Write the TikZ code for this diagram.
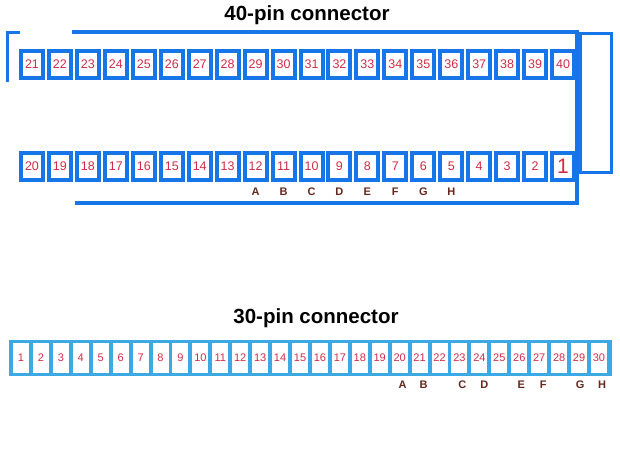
\documentclass[tikz,border=0pt]{standalone}
\usepackage{fontspec}
\setmainfont{Liberation Sans}
\definecolor{pinblue}{RGB}{22,118,232}
\definecolor{barblue}{RGB}{60,168,228}
\definecolor{pinred}{RGB}{210,45,70}
\definecolor{lettbrown}{RGB}{100,40,30}
\tikzset{
  pinbox/.style={draw=pinblue, line width=4pt, fill=white, minimum width=22pt, minimum height=27pt, inner sep=0pt, text=pinred, font=\fontsize{12.5}{14}\selectfont},
  smallcell/.style={fill=white, minimum width=16pt, minimum height=30pt, inner sep=0pt, text=pinred, font=\fontsize{11}{13}\selectfont},
  lett/.style={text=lettbrown, font=\bfseries\fontsize{11}{12}\selectfont, inner sep=0pt},
  frameline/.style={draw=pinblue, line width=3.5pt},
  title/.style={font=\bfseries\fontsize{20.5}{24}\selectfont, anchor=base, inner sep=0pt}
}
\begin{document}
\begin{tikzpicture}[x=1pt,y=-1pt]
\useasboundingbox (0,0) rectangle (620,465);
% titles
\node[title] (t40) at (307,21) {40-pin connector};
\node[title] (t30) at (316,323) {30-pin connector};
% frame lines
\draw[frameline] (72,32) -- (577,32) -- (577,203) -- (75,203);
\draw[frameline, line width=3pt] (580.5,33.5) rectangle (611.5,172);
\draw[frameline, line width=3pt] (20,32.5) -- (7,32.5) -- (7,82);
% top row: 21..40
\foreach \i in {0,...,19} {
  \pgfmathtruncatemacro{\n}{21+\i}
  \node[pinbox] (p\n) at ({32+27.95*\i},64.5) {\n};
}
% bottom row: 20..2, then 1
\foreach \i in {0,...,18} {
  \pgfmathtruncatemacro{\n}{20-\i}
  \node[pinbox] (p\n) at ({32+27.95*\i},166.5) {\n};
}
\node[pinbox, font=\fontsize{21}{24}\selectfont] (p1) at ({32+27.95*19},166.5) {1};
% letters under 40-pin
\foreach \p/\l in {12/A,11/B,10/C,9/D,8/E,7/F,6/G,5/H} {
  \node[lett] (l40\l) at ([yshift=-10pt]p\p.south) {\l};
}
% 30-pin bar
\node[fill=barblue, minimum width=603pt, minimum height=36pt, inner sep=0pt] (bar) at (310.5,358) {};
\foreach \i in {0,...,29} {
  \pgfmathtruncatemacro{\n}{1+\i}
  \node[smallcell] (q\n) at ({21+19.93*\i},358) {\n};
}
% letters under 30-pin
\foreach \p/\l/\dx in {20/A/3,21/B/4,23/C/3,24/D/5,26/E/2,27/F/4,29/G/1,30/H/3} {
  \node[lett] (l30\l) at ([xshift=\dx pt, yshift=-12pt]q\p.south) {\l};
}
\end{tikzpicture}
\end{document}
